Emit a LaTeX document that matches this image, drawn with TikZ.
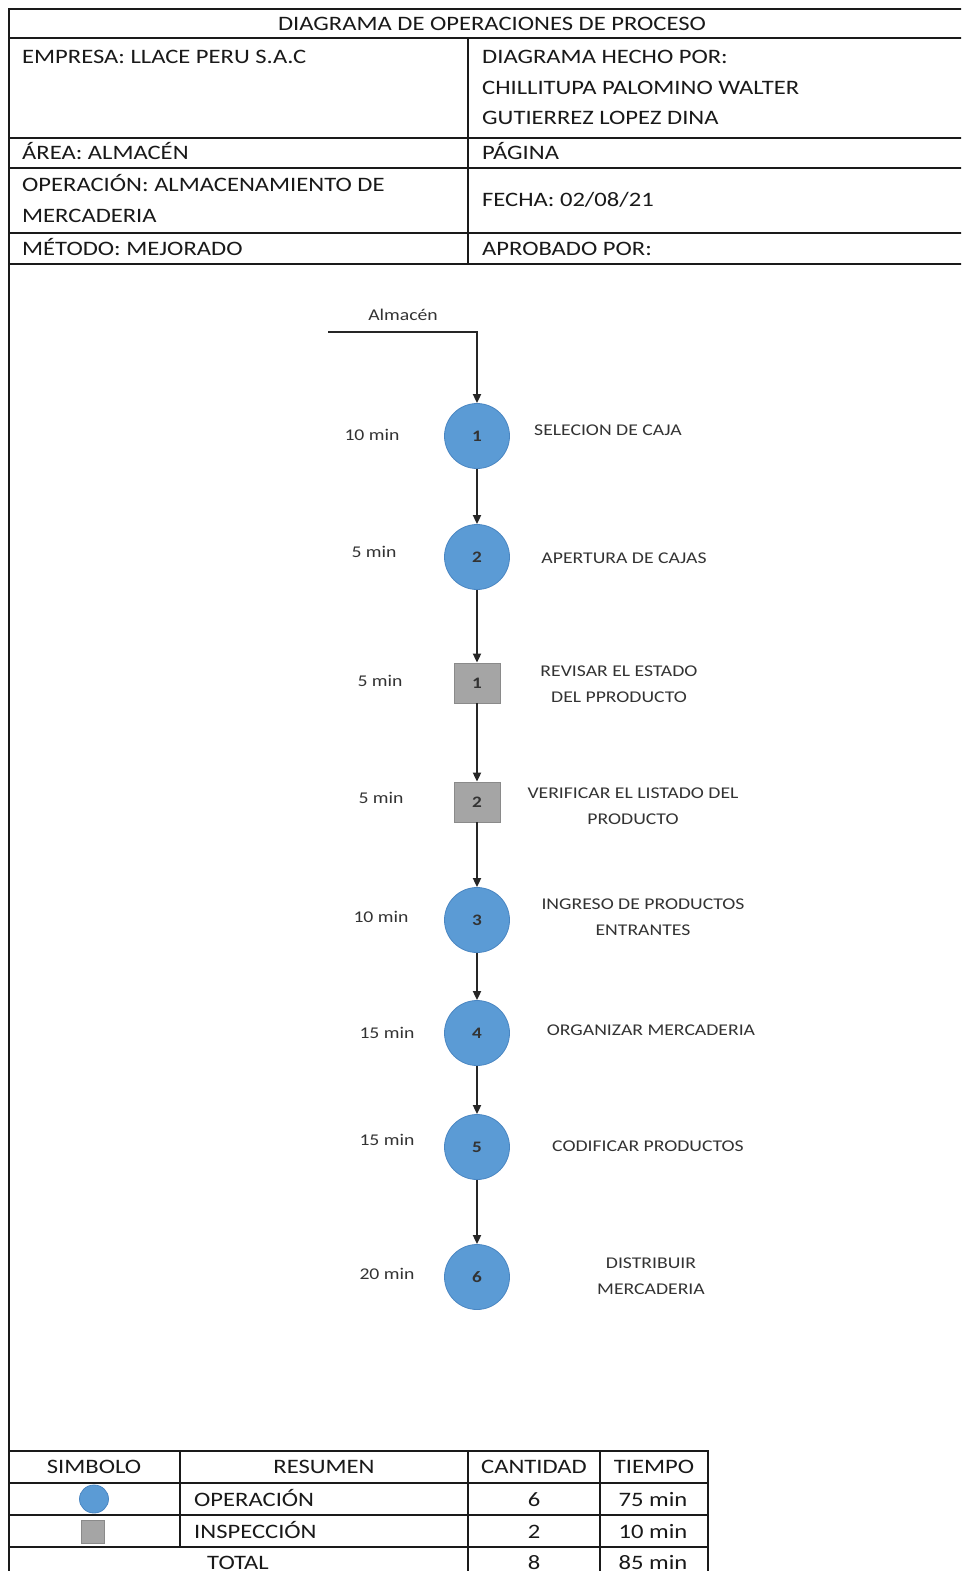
\documentclass[tikz,border=0pt]{standalone}
\usepackage{fontspec}
\setmainfont[FakeStretch=1.2]{Carlito}
\usetikzlibrary{arrows.meta,shapes.geometric}
\definecolor{opblue}{HTML}{5B9BD5}
\definecolor{opedge}{HTML}{4A86C2}
\definecolor{inspgray}{HTML}{A5A5A5}
\definecolor{inspedge}{HTML}{8A8A8A}
\definecolor{flowtext}{HTML}{333333}
\definecolor{rulecol}{HTML}{1A1A1A}

\begin{document}
\begin{tikzpicture}[x=1pt,y=-1pt,
  frame/.style={draw=rulecol,line width=2.2pt},
  grid/.style={draw=rulecol,line width=1.8pt},
  hdr/.style={font=\fontsize{20.5}{31}\selectfont,text=black!90,inner sep=0pt,
    text height=13.2pt,text depth=0pt,anchor=west},
  cell/.style={hdr,anchor=center},
  opc/.style={circle,fill=opblue,draw=opedge,line width=0.8pt,minimum size=65pt,
    inner sep=0pt,font=\fontsize{16}{16}\selectfont\bfseries,text=black!80},
  insp/.style={rectangle,fill=inspgray,draw=inspedge,line width=0.8pt,
    minimum width=46pt,minimum height=40pt,inner sep=0pt,
    font=\fontsize{16}{16}\selectfont\bfseries,text=black!80},
  tlabel/.style={font=\fontsize{16.4}{26}\selectfont,text=flowtext,inner sep=0pt,
    text height=10.4pt,text depth=0pt},
  dlabel/.style={font=\fontsize{16.4}{26}\selectfont,text=flowtext,inner sep=0pt,align=center},
  flow/.style={draw=black!85,line width=1.8pt,-{Triangle[length=9pt,width=8pt]}}
]
\clip (0,0) rectangle (961,1571);
\fill[white] (0,0) rectangle (961,1571);

% ---- header block ----
\draw[frame] (9,1590) -- (9,9) -- (975,9);
\foreach \yy in {38,138,168,233,264}
  \draw[grid] (9,\yy) -- (975,\yy);
\draw[grid] (468,38) -- (468,264);

\node[cell] (title) at (492,24) {DIAGRAMA DE OPERACIONES DE PROCESO};
\node[hdr] (empresa) at (22,57) {EMPRESA: LLACE PERU S.A.C};
\node[hdr] (hecho) at (482,57) {DIAGRAMA HECHO POR:};
\node[hdr] (autor1) at (482,88) {CHILLITUPA PALOMINO WALTER};
\node[hdr] (autor2) at (482,118) {GUTIERREZ LOPEZ DINA};
\node[hdr] (area) at (22,153) {ÁREA: ALMACÉN};
\node[hdr] (pagina) at (482,153) {PÁGINA};
\node[hdr] (oper1) at (22,185) {OPERACIÓN: ALMACENAMIENTO DE};
\node[hdr] (oper2) at (22,216) {MERCADERIA};
\node[hdr] (fecha) at (482,200) {FECHA: 02/08/21};
\node[hdr] (metodo) at (22,249) {MÉTODO: MEJORADO};
\node[hdr] (aprob) at (482,249) {APROBADO POR:};

% ---- process chart ----
\coordinate (in0) at (328,332);
\node[tlabel] (alm) at (403,315) {Almacén};

\node[opc]  (o1) at (477,436) {1};
\node[opc]  (o2) at (477,557) {2};
\node[insp] (i1) at (477,683) {1};
\node[insp] (i2) at (477,802) {2};
\node[opc]  (o3) at (477,920) {3};
\node[opc]  (o4) at (477,1033) {4};
\node[opc]  (o5) at (477,1147) {5};
\node[opc]  (o6) at (477,1277) {6};

\draw[flow] (in0) -| (o1);
\draw[flow] (o1) -- (o2);
\draw[flow] (o2) -- (i1);
\draw[flow] (i1) -- (i2);
\draw[flow] (i2) -- (o3);
\draw[flow] (o3) -- (o4);
\draw[flow] (o4) -- (o5);
\draw[flow] (o5) -- (o6);

\node[tlabel] (t1) at (372,435) {10 min};
\node[tlabel] (t2) at (374,552) {5 min};
\node[tlabel] (t3) at (380,681) {5 min};
\node[tlabel] (t4) at (381,798) {5 min};
\node[tlabel] (t5) at (381,917) {10 min};
\node[tlabel] (t6) at (387,1033) {15 min};
\node[tlabel] (t7) at (387,1140) {15 min};
\node[tlabel] (t8) at (387,1274) {20 min};

\node[dlabel] (d1) at (608,430) {SELECION DE CAJA};
\node[dlabel] (d2) at (624,558) {APERTURA DE CAJAS};
\node[dlabel] (d3) at (619,684) {REVISAR EL ESTADO\\DEL PPRODUCTO};
\node[dlabel] (d4) at (633,806) {VERIFICAR EL LISTADO DEL\\PRODUCTO};
\node[dlabel] (d5) at (643,917) {INGRESO DE PRODUCTOS\\ENTRANTES};
\node[dlabel] (d6) at (651,1030) {ORGANIZAR MERCADERIA};
\node[dlabel] (d7) at (648,1146) {CODIFICAR PRODUCTOS};
\node[dlabel] (d8) at (651,1276) {DISTRIBUIR\\MERCADERIA};

% ---- summary table ----
\draw[grid] (9,1451) -- (708,1451) -- (708,1590);
\foreach \yy in {1483,1515,1547}
  \draw[grid] (9,\yy) -- (708,\yy);
\draw[grid] (180,1451) -- (180,1547);
\draw[grid] (468,1451) -- (468,1590);
\draw[grid] (600,1451) -- (600,1590);

\node[cell] (hsim) at (94,1467) {SIMBOLO};
\node[cell] (hres) at (324,1467) {RESUMEN};
\node[cell] (hcan) at (534,1467) {CANTIDAD};
\node[cell] (htie) at (654,1467) {TIEMPO};

\node[ellipse,fill=opblue,draw=opedge,line width=0.8pt,minimum width=29pt,
  minimum height=28pt,inner sep=0pt] (symop) at (94,1499) {};
\node[rectangle,fill=inspgray,draw=inspedge,line width=0.8pt,minimum width=23pt,
  minimum height=23pt,inner sep=0pt] (symin) at (93,1532) {};

\node[hdr] (rop) at (194,1500) {OPERACIÓN};
\node[cell] (cop) at (534,1500) {6};
\node[cell] (top) at (653,1500) {75 min};
\node[hdr] (rin) at (194,1532) {INSPECCIÓN};
\node[cell] (cin) at (534,1532) {2};
\node[cell] (tin) at (653,1532) {10 min};
\node[cell] (rtot) at (238,1563) {TOTAL};
\node[cell] (ctot) at (534,1563) {8};
\node[cell] (ttot) at (653,1563) {85 min};
\end{tikzpicture}
\end{document}
